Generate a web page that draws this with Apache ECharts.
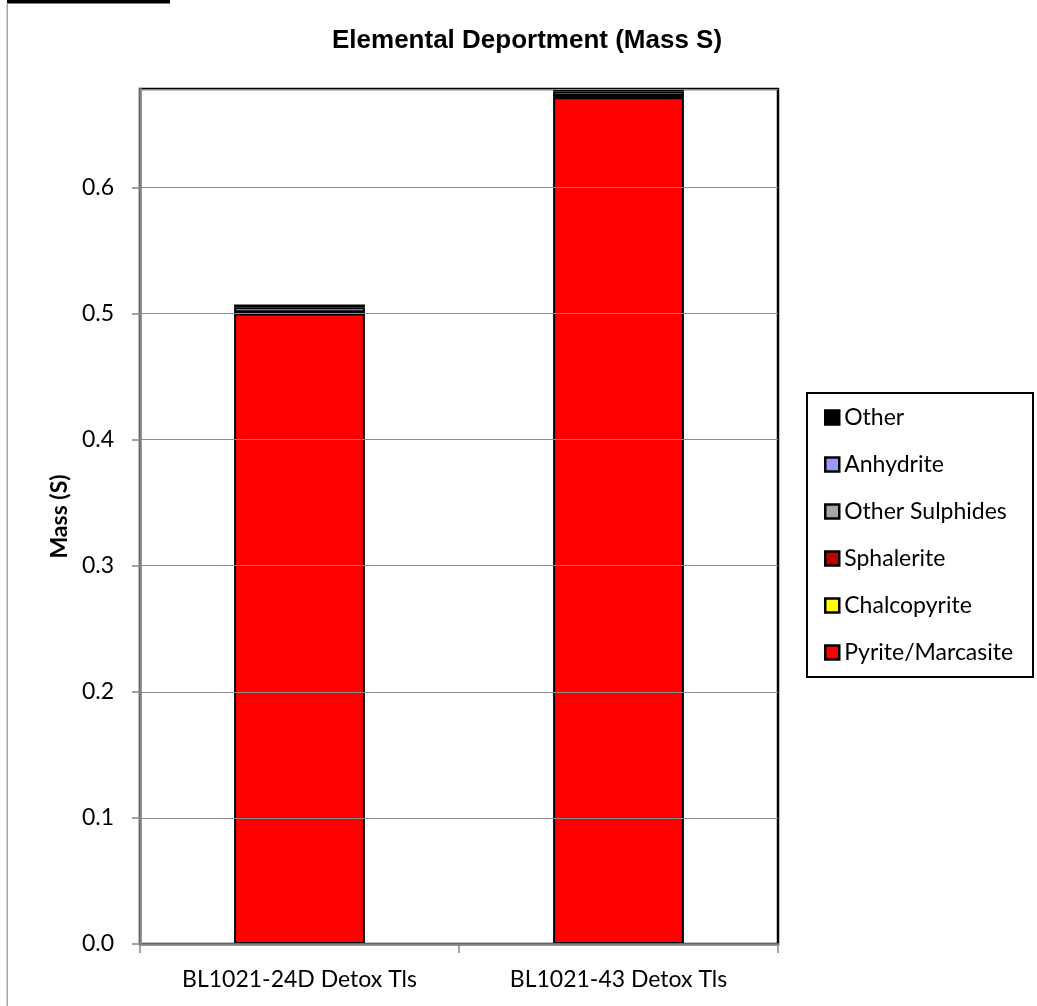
<!DOCTYPE html>
<html>
<head>
<meta charset="utf-8">
<script src="https://cdn.jsdelivr.net/npm/echarts@6/dist/echarts.min.js"></script>
<style>
html,body{margin:0;padding:0;background:#fff;}
#chart{width:1037px;height:1006px;}
</style>
</head>
<body>
<div id="chart"></div>
<script>
var categories = ['BL1021-24D Detox Tls', 'BL1021-43 Detox Tls'];
var pyriteMarcasite = [0.500, 0.6715];
var chalcopyrite = [0.0001, 0.0001];
var sphalerite = [0.0006, 0.0006];
var otherSulphides = [0.0003, 0.0003];
var anhydrite = [0.0040, 0.0035];
var other = [0.0022, 0.0020];
var seriesNames = ['Pyrite/Marcasite', 'Chalcopyrite', 'Sphalerite', 'Other Sulphides', 'Anhydrite', 'Other'];
var seriesColors = ['#FF0000', '#FFFF00', '#C00000', '#A6A6A6', '#9999FF', '#000000'];
var seriesData = [pyriteMarcasite, chalcopyrite, sphalerite, otherSulphides, anhydrite, other];

var FONT = 'Lato, "Open Sans", sans-serif';
var chart = echarts.init(document.getElementById('chart'), null, {renderer: 'canvas'});

var series = seriesNames.map(function (name, i) {
  return {
    name: name,
    type: 'bar',
    stack: 'total',
    barWidth: '41%',
    data: seriesData[i],
    itemStyle: {color: seriesColors[i], borderColor: '#000', borderWidth: 2},
    emphasis: {disabled: true}
  };
});

chart.setOption({
  animation: false,
  backgroundColor: '#fff',
  title: {
    text: 'Elemental Deportment (Mass S)',
    left: 327,
    top: 23,
    textStyle: {fontFamily: '"Liberation Sans", Arial, sans-serif', fontWeight: 'bold', fontSize: 26, color: '#000'}
  },
  legend: {
    data: seriesNames.slice().reverse(),
    orient: 'vertical',
    left: 819,
    top: 401,
    icon: 'rect',
    itemWidth: 14,
    itemHeight: 14,
    itemGap: 24,
    textStyle: {fontFamily: FONT, fontSize: 23, color: '#000'},
    itemStyle: {borderColor: '#000', borderWidth: 2.5}
  },
  grid: {
    left: 140, right: 259, top: 89, bottom: 62,
    show: true, borderColor: '#000', borderWidth: 2.5, backgroundColor: 'transparent'
  },
  xAxis: {
    type: 'category',
    data: categories,
    z: 5,
    axisLine: {lineStyle: {color: '#868686', width: 2.5}},
    axisTick: {show: true, alignWithLabel: false, length: 9, lineStyle: {color: '#868686', width: 1.5}},
    axisLabel: {fontFamily: FONT, fontSize: 23, color: '#000', margin: 24}
  },
  yAxis: {
    type: 'value',
    min: 0,
    max: 0.678,
    interval: 0.1,
    z: 5,
    name: 'Mass (S)',
    nameLocation: 'middle',
    nameRotate: 90,
    nameGap: 69,
    nameTextStyle: {fontFamily: FONT, fontSize: 23, fontWeight: 'bold', color: '#000'},
    axisLine: {show: true, lineStyle: {color: '#868686', width: 2.5}},
    axisTick: {show: true, length: 8, lineStyle: {color: '#868686', width: 1.5}},
    axisLabel: {
      fontFamily: FONT, fontSize: 23, color: '#000', margin: 26,
      showMaxLabel: false,
      formatter: function (v) { return v.toFixed(1); }
    },
    splitLine: {show: true, lineStyle: {color: '#8c8c8c', width: 1.2}}
  },
  graphic: [
    {type: 'rect', shape: {x: 807, y: 393, width: 226, height: 284}, style: {fill: 'transparent', stroke: '#000', lineWidth: 2}, z: 10},
    {type: 'rect', shape: {x: 7, y: 0, width: 163, height: 3.5}, style: {fill: '#000'}, z: 10},
    {type: 'rect', shape: {x: 6.5, y: 3, width: 1.5, height: 1003}, style: {fill: '#a6a6a6'}, z: 10}
  ],
  series: series
});
</script>
</body>
</html>
